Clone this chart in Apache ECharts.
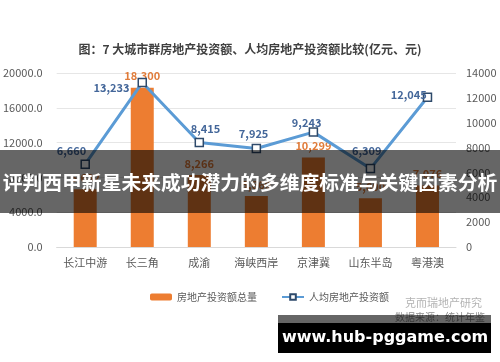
<!DOCTYPE html>
<html><head><meta charset="utf-8">
<script src="https://cdn.jsdelivr.net/npm/echarts@6/dist/echarts.min.js"></script>
<style>html,body{margin:0;padding:0;background:#fff}#c{width:500px;height:362px}</style>
</head><body><div id="c"></div>
<script>
const categories = ['长江中游','长三角','成渝','海峡西岸','京津冀','山东半岛','粤港澳'];
const investTotal = [6632, 18300, 8266, 5860, 10299, 5600, 7076];
const investPerCapita = [6660, 13233, 8415, 7925, 9243, 6309, 12045];
const leftTicks = [0, 4000, 8000, 12000, 16000, 20000];
const rightTicks = [0, 2000, 4000, 6000, 8000, 10000, 12000, 14000];

const F = '"Noto Sans CJK SC", "Noto Sans", sans-serif';
const fmt = v => v.toLocaleString('en-US');
// label centre offsets from each marker centre
const lineLabelOff = [[-13,-13],[-30,6],[7,-13],[-2,-14],[-6,-9],[-3,-17],[-18,-2]];

const chart = echarts.init(document.getElementById('c'));
chart.setOption({
  animation: false,
  textStyle: {fontFamily: F},
  title: {
    text: '图：7 大城市群房地产投资额、人均房地产投资额比较(亿元、元)',
    left: 'center', top: 38,
    textStyle: {fontSize: 12, fontWeight: 'bold', color: '#404040', fontFamily: F}
  },
  grid: {left: 56, right: 44, top: 73, bottom: 115},
  legend: {
    left: 145, top: 287, itemGap: 24, itemWidth: 22, itemHeight: 7,
    textStyle: {color: '#595959', fontSize: 10, fontFamily: F},
    data: ['房地产投资额总量', '人均房地产投资额']
  },
  xAxis: {
    type: 'category', data: categories,
    axisLine: {lineStyle: {color: '#d9d9d9'}},
    axisTick: {show: false},
    axisLabel: {color: '#595959', fontSize: 11, margin: 10, interval: 0}
  },
  yAxis: [
    {type: 'value', min: leftTicks[0], max: leftTicks[leftTicks.length-1], interval: 4000,
     axisLabel: {color: '#595959', fontSize: 11, formatter: v => v.toFixed(1), margin: 14},
     splitLine: {lineStyle: {color: '#e6e6e6'}}, axisLine: {show: false}, axisTick: {show: false}},
    {type: 'value', min: rightTicks[0], max: rightTicks[rightTicks.length-1], interval: 2000,
     axisLabel: {color: '#595959', fontSize: 11, margin: 10, formatter: v => String(v)},
     splitLine: {show: false}, axisLine: {show: false}, axisTick: {show: false}}
  ],
  series: [
    {name: '房地产投资额总量', type: 'bar', yAxisIndex: 0, barWidth: 23,
     itemStyle: {color: '#ED7D31'},
     data: investTotal,
     label: {show: true, position: 'top', distance: 6, color: '#E07B39', fontWeight: 'bold', fontSize: 11,
       formatter: p => fmt(p.value)}},
    {name: '人均房地产投资额', type: 'line', yAxisIndex: 1,
     symbol: 'rect', symbolSize: 8,
     lineStyle: {color: '#5B9BD5', width: 3},
     itemStyle: {color: '#ffffff', borderColor: '#2E4A6B', borderWidth: 1.5},
     data: investPerCapita.map((v, i) => ({value: v, label: {
       position: [4 + lineLabelOff[i][0], 4 + lineLabelOff[i][1]], align: 'center', verticalAlign: 'middle'}})),
     label: {show: true, color: '#44679A', fontWeight: 'bold', fontSize: 11,
       formatter: p => fmt(p.value)},
     z: 3}
  ],
  graphic: [
    {type: 'text', left: 405, top: 297, style: {text: '克而瑞地产研究', fill: '#b3b3b3', font: '11px ' + F}},
    {type: 'text', left: 395, top: 312, style: {text: '数据来源：统计年鉴', fill: '#8c8c8c', font: '10px ' + F}},
    {type: 'rect', shape: {x: 0, y: 150, width: 500, height: 63}, style: {fill: 'rgba(0,0,0,0.6)'}, z: 100},
    {type: 'text', x: 250, y: 182, style: {text: '评判西甲新星未来成功潜力的多维度标准与关键因素分析', fill: '#ffffff',
      font: 'bold 19.8px ' + F, align: 'center', verticalAlign: 'middle'}, z: 101},
    {type: 'rect', shape: {x: 278, y: 315, width: 213, height: 8}, style: {fill: 'rgba(0,0,0,0.6)'}, z: 100},
    {type: 'rect', shape: {x: 278, y: 323, width: 213, height: 30}, style: {fill: '#000000'}, z: 100},
    {type: 'text', x: 385, y: 338, style: {text: 'www.hub-pggame.com', fill: '#ffffff',
      font: 'bold 16px "DejaVu Sans", sans-serif', align: 'center', verticalAlign: 'middle'}, z: 101}
  ]
});
</script></body></html>
